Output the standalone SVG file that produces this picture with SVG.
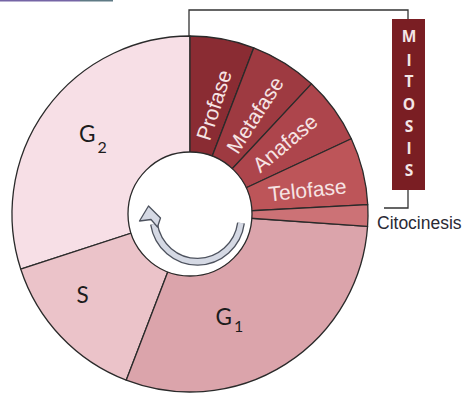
<svg xmlns="http://www.w3.org/2000/svg" width="465" height="398" viewBox="0 0 465 398">
<style>
.seg{stroke:#2a2a2a;stroke-width:1.3;stroke-linejoin:round}
.ph{font-family:"Liberation Sans",Arial,sans-serif;font-size:21px;fill:#f6e4e4;text-anchor:middle}
.gl{font-family:Lato,"Open Sans",sans-serif;fill:#1c1c1c}
.mi{font-family:"Open Sans","Liberation Sans",sans-serif;font-weight:bold;font-size:15.5px;fill:#f4e6e6;text-anchor:middle}
.br{fill:none;stroke:#333;stroke-width:1.3}
</style>
<rect width="465" height="398" fill="#fff"/>
<rect x="0" y="0" width="80" height="1.5" fill="#7565a5"/>
<rect x="80" y="0" width="33" height="1.5" fill="#5f7a85"/>
<g id="connectors">
<path class="br" d="M189,36 V10 H408 V19"/>
<path class="br" d="M408,190 V208 H384"/>
</g>
<g id="G2"><path class="seg" fill="#f7dfe6" d="M190,214 L20.71,269.01 A178,178 0 0 1 190,36 Z"/>
<text class="gl" x="79" y="141.5" font-size="22.5">G</text><text class="gl" x="97.5" y="153" font-size="16">2</text></g>
<g id="S"><path class="seg" fill="#ebc3c9" d="M190,214 L126.21,380.18 A178,178 0 0 1 20.71,269.01 Z"/>
<text class="gl" x="76.5" y="303" font-size="22.5">S</text></g>
<g id="G1"><path class="seg" fill="#dba4ab" d="M190,214 L367.57,226.42 A178,178 0 0 1 126.21,380.18 Z"/>
<text class="gl" x="215.5" y="324.5" font-size="22.5">G</text><text class="gl" x="234" y="332" font-size="16">1</text></g>
<g id="Profase"><path class="seg" fill="#8a2c33" d="M190,214 L190,36 A178,178 0 0 1 253.79,47.82 Z"/>
<text class="ph" transform="translate(214,105) rotate(-72)" dy="0.35em">Profase</text></g>
<g id="Metafase"><path class="seg" fill="#9e3a41" d="M190,214 L253.79,47.82 A178,178 0 0 1 311.40,83.82 Z"/>
<text class="ph" transform="translate(255,115) rotate(-57)" dy="0.35em">Metafase</text></g>
<g id="Anafase"><path class="seg" fill="#ad454c" d="M190,214 L311.40,83.82 A178,178 0 0 1 351.32,138.77 Z"/>
<text class="ph" transform="translate(285,143) rotate(-40)" dy="0.35em">Anafase</text></g>
<g id="Telofase"><path class="seg" fill="#bd5559" d="M190,214 L351.32,138.77 A178,178 0 0 1 367.76,204.68 Z"/>
<text class="ph" transform="translate(307.5,190) rotate(-6)" dy="0.35em">Telofase</text></g>
<g id="Citocinesis"><path class="seg" fill="#cc7276" d="M190,214 L367.76,204.68 A178,178 0 0 1 367.57,226.42 Z"/>
<text x="377" y="229" font-family="Liberation Sans,Arial,sans-serif" font-size="17.5" fill="#2a2a35">Citocinesis</text></g>
<g id="center">
<circle cx="190" cy="214" r="62" fill="#fff" stroke="#2a2a2a" stroke-width="1.3"/>
<path d="M241,223 A44,45 0 0 1 154,224" fill="none" stroke="#4d525e" stroke-width="8"/>
<path d="M241,223 A44,45 0 0 1 154,224" fill="none" stroke="#d5d9e4" stroke-width="5.4"/>
<polygon points="148.5,206 139.5,221 151,219.5 157.5,227 160.5,218" fill="#d5d9e4" stroke="#4d525e" stroke-width="1.3" stroke-linejoin="round"/>
</g>
<g id="Mitosis">
<rect x="392" y="19" width="33" height="171" fill="#7a1e23"/>
<text class="mi" x="409" y="42">M</text>
<text class="mi" x="409" y="65.5">I</text>
<text class="mi" x="409" y="87">T</text>
<text class="mi" x="409" y="109.5">O</text>
<text class="mi" x="409" y="132">S</text>
<text class="mi" x="409" y="153.5">I</text>
<text class="mi" x="409" y="176">S</text>
</g>
</svg>
